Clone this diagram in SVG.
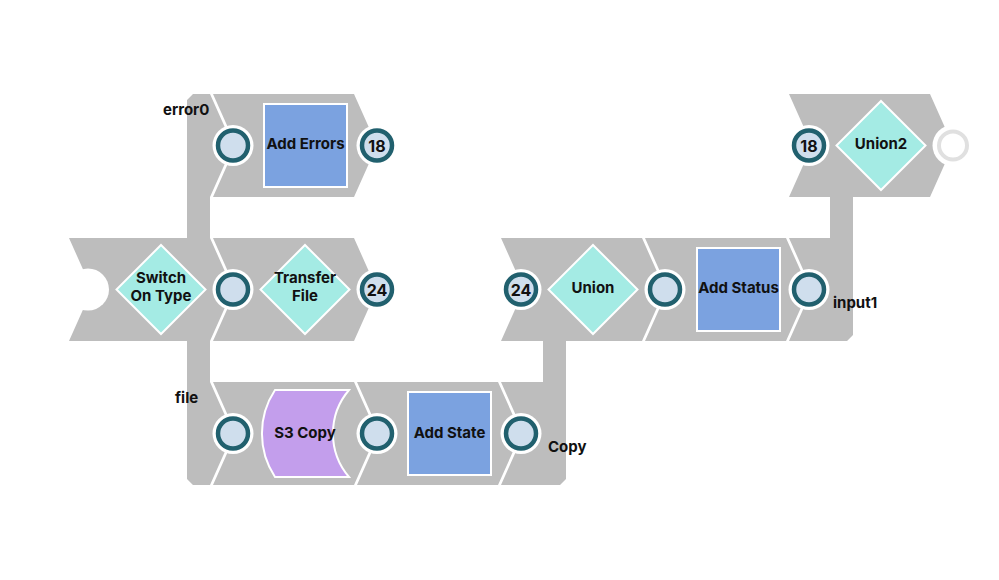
<svg xmlns="http://www.w3.org/2000/svg" width="999" height="580" viewBox="0 0 999 580">
<style>
.tile{fill:#bdbdbd;}
.ring{fill:#ffffff;}
.port{fill:#cfdeed;stroke:#21606e;stroke-width:4.5;}
.empty{fill:#ffffff;stroke:#e0e0e0;stroke-width:4;}
.sq{fill:#7ba2e0;stroke:#ffffff;stroke-width:2;}
.dia{fill:#a4ebe4;stroke:#ffffff;stroke-width:2;}
.s3{fill:#c39eec;stroke:#ffffff;stroke-width:2;}
text{font-family:Inter,"Noto Sans","Liberation Sans",sans-serif;font-weight:700;font-size:15px;fill:#111111;text-anchor:middle;dominant-baseline:central;}
.num{font-size:16px;}
.lbl{text-anchor:start;}
</style>
<rect width="999" height="580" fill="#ffffff"/>
<g id="connectors">
<path class="tile" d="M193 94 H210 L233 145.5 L210 197 V382 L233 433.5 L210 485 H193 L187 479 V100 Z"/>
<path class="tile" d="M501 382 H543 V341 H566 V479 L560 485 H501 L524 433.5 Z"/>
<path class="tile" d="M789 238 H830 V197 H853 V335 L847 341 H789 L812 289.5 Z"/>
</g>
<g id="switch-on-type">
<path class="tile" d="M69 238 H210 L233 289.5 L210 341 H69 L92 289.5 Z"/>
<circle class="ring" cx="88" cy="289.5" r="21"/>
<path class="dia" d="M161 245 L205.5 289.5 L161 334 L116.5 289.5 Z"/>
<text x="161" y="277">Switch</text>
<text x="161" y="295">On Type</text>
</g>
<g id="add-errors">
<path class="tile" d="M213 94 H354 L377 145.5 L354 197 H213 L236 145.5 Z"/>
<rect class="sq" x="264" y="104" width="83" height="83"/>
<text x="305.5" y="143">Add Errors</text>
</g>
<g id="transfer-file">
<path class="tile" d="M213 238 H354 L377 289.5 L354 341 H213 L236 289.5 Z"/>
<path class="dia" d="M305 245 L349.5 289.5 L305 334 L260.5 289.5 Z"/>
<text x="305" y="277">Transfer</text>
<text x="305" y="295">File</text>
</g>
<g id="s3-copy">
<path class="tile" d="M213 382 H354 L377 433.5 L354 485 H213 L236 433.5 Z"/>
<path class="s3" d="M275 390 H349 A67 67 0 0 0 349 477 H275 A79 79 0 0 1 275 390 Z"/>
<text x="305" y="432">S3 Copy</text>
</g>
<g id="add-state">
<path class="tile" d="M357 382 H498 L521 433.5 L498 485 H357 L380 433.5 Z"/>
<rect class="sq" x="408" y="392" width="83" height="83"/>
<text x="449.5" y="432">Add State</text>
</g>
<g id="union">
<path class="tile" d="M501 238 H642 L665 289.5 L642 341 H501 L524 289.5 Z"/>
<path class="dia" d="M593 245 L637.5 289.5 L593 334 L548.5 289.5 Z"/>
<text x="593" y="287">Union</text>
</g>
<g id="add-status">
<path class="tile" d="M645 238 H786 L809 289.5 L786 341 H645 L668 289.5 Z"/>
<rect class="sq" x="697" y="248" width="83" height="83"/>
<text x="738.5" y="287">Add Status</text>
</g>
<g id="union2">
<path class="tile" d="M789 94 H930 L953 145.5 L930 197 H789 L812 145.5 Z"/>
<path class="dia" d="M881 101 L925.5 145.5 L881 190 L836.5 145.5 Z"/>
<text x="881" y="143">Union2</text>
</g>
<g id="ports">
<circle class="ring" cx="233" cy="145.5" r="20.5"/><circle class="port" cx="233" cy="145.5" r="15"/>
<circle class="ring" cx="377" cy="145.5" r="20.5"/><circle class="port" cx="377" cy="145.5" r="15"/>
<circle class="ring" cx="233" cy="289.5" r="20.5"/><circle class="port" cx="233" cy="289.5" r="15"/>
<circle class="ring" cx="377" cy="289.5" r="20.5"/><circle class="port" cx="377" cy="289.5" r="15"/>
<circle class="ring" cx="521" cy="289.5" r="20.5"/><circle class="port" cx="521" cy="289.5" r="15"/>
<circle class="ring" cx="665" cy="289.5" r="20.5"/><circle class="port" cx="665" cy="289.5" r="15"/>
<circle class="ring" cx="809" cy="289.5" r="20.5"/><circle class="port" cx="809" cy="289.5" r="15"/>
<circle class="ring" cx="809" cy="145.5" r="20.5"/><circle class="port" cx="809" cy="145.5" r="15"/>
<circle class="ring" cx="953" cy="145.5" r="20.5"/><circle class="empty" cx="953" cy="145.5" r="14"/>
<circle class="ring" cx="233" cy="433.5" r="20.5"/><circle class="port" cx="233" cy="433.5" r="15"/>
<circle class="ring" cx="377" cy="433.5" r="20.5"/><circle class="port" cx="377" cy="433.5" r="15"/>
<circle class="ring" cx="521" cy="433.5" r="20.5"/><circle class="port" cx="521" cy="433.5" r="15"/>
<text class="num" x="377" y="145.5">18</text>
<text class="num" x="377" y="289.5">24</text>
<text class="num" x="521" y="289.5">24</text>
<text class="num" x="809" y="145.5">18</text>
</g>
<g id="labels">
<text class="lbl" x="163" y="109">error0</text>
<text class="lbl" x="175" y="397">file</text>
<text class="lbl" x="548" y="446">Copy</text>
<text class="lbl" x="833" y="302">input1</text>
</g>
</svg>
